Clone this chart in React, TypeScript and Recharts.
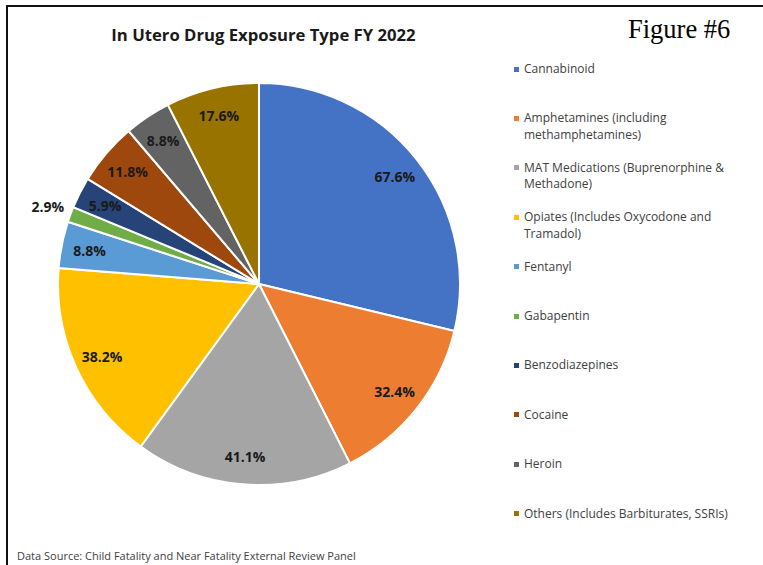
import React from 'react';
import { PieChart, Pie, Cell, Legend } from 'recharts';

const categories = [
  'Cannabinoid',
  'Amphetamines (including methamphetamines)',
  'MAT Medications (Buprenorphine & Methadone)',
  'Opiates (Includes Oxycodone and Tramadol)',
  'Fentanyl',
  'Gabapentin',
  'Benzodiazepines',
  'Cocaine',
  'Heroin',
  'Others (Includes Barbiturates, SSRIs)',
];
const values = [67.6, 32.4, 41.1, 38.2, 8.8, 2.9, 5.9, 11.8, 8.8, 17.6];
const colors = [
  '#4472C4', '#ED7D31', '#A5A5A5', '#FFC000', '#5B9BD5',
  '#70AD47', '#264478', '#9E480E', '#636363', '#997300',
];
const title = 'In Utero Drug Exposure Type FY 2022';
const figureLabel = 'Figure #6';
const sourceNote = 'Data Source: Child Fatality and Near Fatality External Review Panel';

const data = categories.map((name, i) => ({ name, value: values[i] }));

const RAD = Math.PI / 180;
const FONT = "'Open Sans', 'Noto Sans', sans-serif";

const renderLabel = (props: any) => {
  const { cx, cy, midAngle, outerRadius, value } = props;
  const small = value < 4;
  const r = small ? outerRadius + 24 : outerRadius * 0.86;
  const x = cx + r * Math.cos(-midAngle * RAD);
  const y = cy + r * Math.sin(-midAngle * RAD);
  return (
    <text
      x={x}
      y={y}
      textAnchor="middle"
      dominantBaseline="central"
      fontFamily={FONT}
      fontWeight={700}
      fontSize={14}
      fill="#1a1a1a"
    >
      {`${value.toFixed(1)}%`}
    </text>
  );
};

const renderLegend = () => (
  <div style={{ position: 'relative', width: 245, height: 520 }}>
    {categories.map((name, i) => (
      <div
        key={name}
        style={{
          position: 'absolute',
          left: 0,
          top: 69 + i * 49.4 - 8,
          width: 245,
          fontFamily: FONT,
          fontSize: 12,
          lineHeight: '16.5px',
          color: '#404040',
        }}
      >
        <div
          style={{
            position: 'absolute',
            left: 2,
            top: 5.5,
            width: 5,
            height: 5,
            background: colors[i],
          }}
        />
        <div style={{ marginLeft: 12, width: 222, textAlign: 'left' }}>{name}</div>
      </div>
    ))}
  </div>
);

export default function App() {
  return (
    <div
      style={{
        position: 'absolute',
        left: 0,
        top: 0,
        width: 763,
        height: 565,
        background: '#ffffff',
        overflow: 'hidden',
      }}
    >
      <div
        style={{
          position: 'absolute',
          left: 6,
          top: 5,
          width: 763,
          height: 570,
          borderLeft: '2px solid #111',
          borderTop: '2px solid #111',
          boxSizing: 'border-box',
        }}
      />
      <div
        style={{
          position: 'absolute',
          left: 0,
          width: 527,
          top: 23,
          textAlign: 'center',
          fontFamily: FONT,
          fontWeight: 700,
          fontSize: 16.7,
          color: '#1a1a1a',
          whiteSpace: 'nowrap',
        }}
      >
        {title}
      </div>
      <div
        style={{
          position: 'absolute',
          left: 628,
          top: 14,
          fontFamily: "'Liberation Serif', 'Times New Roman', serif",
          fontSize: 26.5,
          color: '#000',
          whiteSpace: 'nowrap',
        }}
      >
        {figureLabel}
      </div>
      <div style={{ position: 'absolute', left: 0, top: 0 }}>
        <PieChart width={763} height={565} margin={{ top: 0, right: 0, bottom: 0, left: 0 }}>
          <Pie
            data={data}
            dataKey="value"
            nameKey="name"
            cx={259}
            cy={284}
            outerRadius={201}
            startAngle={90}
            endAngle={-270}
            stroke="#ffffff"
            strokeWidth={2}
            label={renderLabel}
            labelLine={false}
            isAnimationActive={false}
          >
            {data.map((d, i) => (
              <Cell key={d.name} fill={colors[i]} />
            ))}
          </Pie>
          <Legend
            content={renderLegend}
            wrapperStyle={{ position: 'absolute', left: 512, top: 0, width: 245 }}
          />
        </PieChart>
      </div>
      <div
        style={{
          position: 'absolute',
          left: 17,
          top: 548,
          fontFamily: FONT,
          fontSize: 11,
          color: '#404040',
          whiteSpace: 'nowrap',
        }}
      >
        {sourceNote}
      </div>
    </div>
  );
}
